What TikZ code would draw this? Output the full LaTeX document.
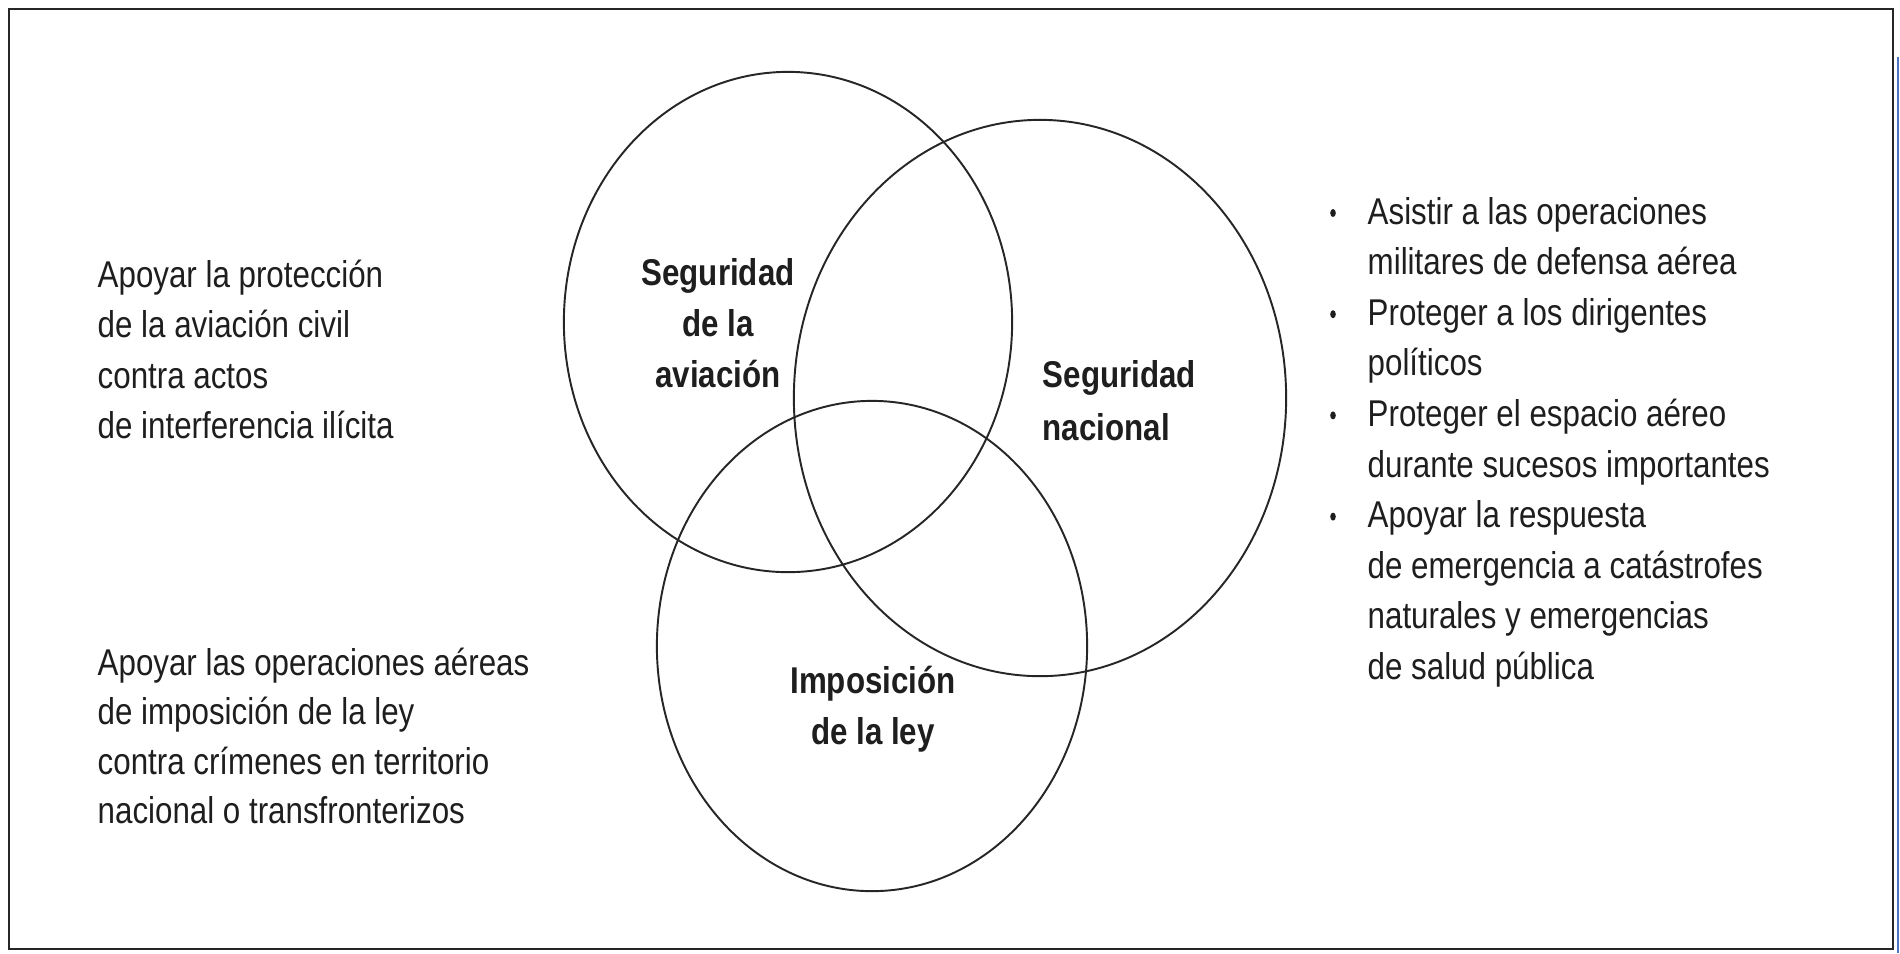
\documentclass[tikz,border=0pt]{standalone}
\usepackage{fontspec}
\setmainfont[FakeStretch=0.84]{Liberation Sans}
\usepackage{xcolor}
\usepackage{tikz}
\definecolor{edgeblue}{HTML}{4A74C4}
\definecolor{inkcolor}{HTML}{1E1E1E}

\begin{document}
\begin{tikzpicture}[x=0.01cm,y=-0.01cm,
    txt/.style={anchor=base west,inner sep=0pt,text=inkcolor,font=\fontsize{10.6}{12}\selectfont},
    setlabel/.style={anchor=base,inner sep=0pt,text=inkcolor,font=\fontsize{10.6}{12}\selectfont\bfseries},
    venn/.style={line width=0.55pt,black!85}]
  \useasboundingbox (0,0) rectangle (1900,953);
  \draw[black!85,line width=0.8pt] (9,9) rectangle (1893,949);
  \draw[edgeblue,line width=0.6pt] (1898,57) -- (1898,953);
%% the three sets
  \draw[venn] (788,322) ellipse [x radius=2.24cm,y radius=2.5cm];
  \draw[venn] (1040,398) ellipse [x radius=2.46cm,y radius=2.78cm];
  \draw[venn] (872,646) ellipse [x radius=2.15cm,y radius=2.45cm];
%% set names
  \node[setlabel] (aviacion1) at (718,285) {Seguridad};
  \node[setlabel] (aviacion2) at (718,336) {de la};
  \node[setlabel] (aviacion3) at (718,387) {aviación};
  \node[setlabel,anchor=base west] (nacional1) at (1042,387) {Seguridad};
  \node[setlabel,anchor=base west] (nacional2) at (1042,440) {nacional};
  \node[setlabel] (ley1) at (873,693) {Imposición};
  \node[setlabel] (ley2) at (873,744) {de la ley};
%% left side
\foreach \t [count=\i] in {Apoyar la protección, de la aviación civil, contra actos, de interferencia ilícita}
    \node[txt] (proteccion\i) at (97,{287+50.6*(\i-1)}) {\t};
\foreach \t [count=\i] in {Apoyar las operaciones aéreas, de imposición de la ley, contra crímenes en territorio, nacional o transfronterizos}
    \node[txt] (operaciones\i) at (97,{675+49.6*(\i-1)}) {\t};
%% right side
\foreach \t [count=\i] in {Asistir a las operaciones, militares de defensa aérea, Proteger a los dirigentes, políticos, Proteger el espacio aéreo, durante sucesos importantes, Apoyar la respuesta, de emergencia a catástrofes, naturales y emergencias, de salud pública}
    \node[txt] (apoyo\i) at (1367,{224+50.6*(\i-1)}) {\t};
\foreach \k in {0,2,4,6}
    \fill[inkcolor] (1333,{213+50.6*\k}) ellipse [x radius=0.028cm,y radius=0.04cm];
\end{tikzpicture}
\end{document}
